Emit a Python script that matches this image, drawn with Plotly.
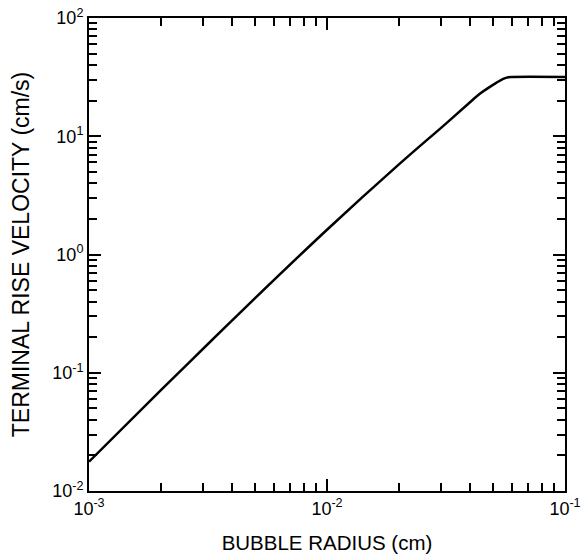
import plotly.graph_objects as go

# Terminal rise velocity of a bubble versus its radius
radius_cm = [0.001, 0.002, 0.00316, 0.005, 0.01, 0.02, 0.0316, 0.04, 0.044,
             0.048, 0.0516, 0.055, 0.0578, 0.06, 0.1]
velocity_cm_s = [0.0177, 0.0708, 0.175, 0.43, 1.62, 5.75, 12.8, 19.5, 23.0,
                 25.9, 28.4, 30.5, 31.5, 31.7, 31.7]

x_major = [1e-3, 1e-2, 1e-1]
x_major_text = ["10<sup>-3</sup>", "10<sup>-2</sup>", "10<sup>-1</sup>"]
y_major = [1e-2, 1e-1, 1e0, 1e1, 1e2]
y_major_text = ["10<sup>-2</sup>", "10<sup>-1</sup>", "10<sup>0</sup>",
                "10<sup>1</sup>", "10<sup>2</sup>"]

x_minor = [m * 10.0 ** e for e in (-3, -2) for m in range(2, 10)]
y_minor = [m * 10.0 ** e for e in (-2, -1, 0, 1) for m in range(2, 10)]

FONT = "Liberation Sans, Arial, Helvetica, sans-serif"

fig = go.Figure(
    go.Scatter(
        x=radius_cm,
        y=velocity_cm_s,
        mode="lines",
        line=dict(color="black", width=2.5, shape="spline", smoothing=1.0),
        showlegend=False,
        hoverinfo="x+y",
    )
)

axis_common = dict(
    type="log",
    automargin=False,
    showline=True,
    linecolor="black",
    linewidth=2,
    mirror="allticks",
    ticks="inside",
    ticklen=12,
    tickwidth=2,
    tickcolor="black",
    showgrid=False,
    zeroline=False,
    tickfont=dict(family=FONT, size=18, color="black"),
)

fig.update_xaxes(
    **axis_common,
    range=[-3, -1],
    tickmode="array",
    tickvals=x_major,
    ticktext=x_major_text,
    minor=dict(tickmode="array", tickvals=x_minor, ticks="inside",
               ticklen=8, tickwidth=2, tickcolor="black", showgrid=False),
    title=dict(text="BUBBLE RADIUS (cm)", standoff=18,
               font=dict(family=FONT, size=20.5, color="black")),
)

fig.update_yaxes(
    **axis_common,
    range=[-2, 2],
    tickmode="array",
    tickvals=y_major,
    ticktext=y_major_text,
    minor=dict(tickmode="array", tickvals=y_minor, ticks="inside",
               ticklen=8, tickwidth=2, tickcolor="black", showgrid=False),
    title=dict(text="TERMINAL RISE VELOCITY (cm/s)", standoff=16,
               font=dict(family=FONT, size=23, color="black")),
)

fig.update_layout(
    width=581,
    height=557,
    margin=dict(l=89, r=16, t=18, b=66),
    paper_bgcolor="white",
    plot_bgcolor="white",
)

fig.write_html("out.html")
